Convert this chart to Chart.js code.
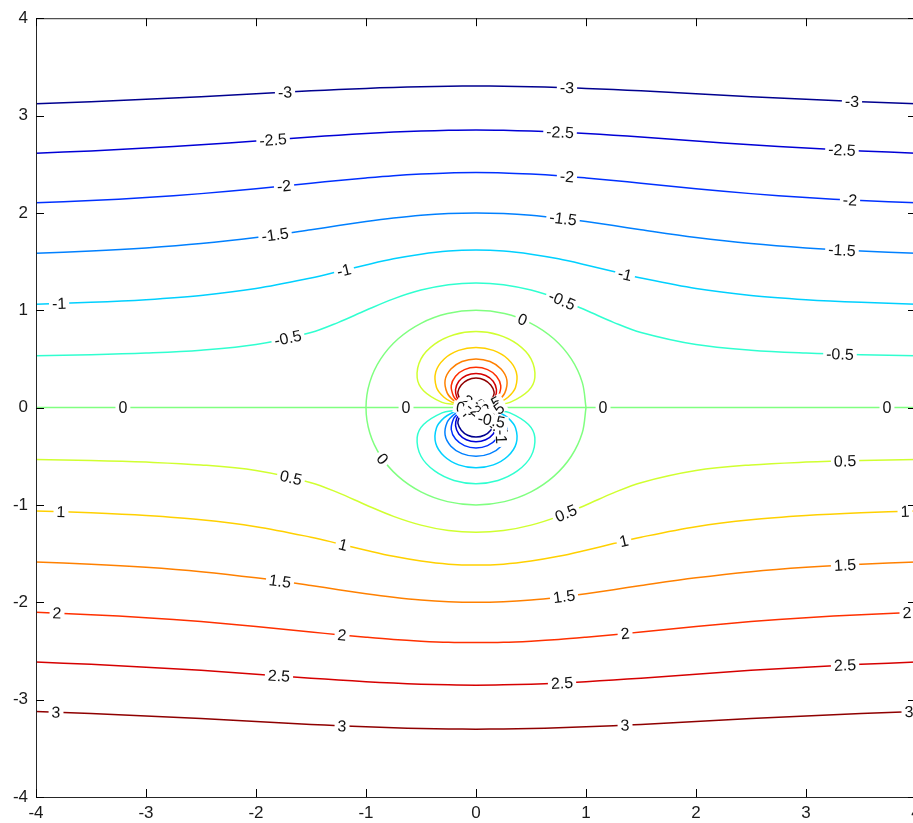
<!DOCTYPE html>
<html><head><meta charset="utf-8">
<script src="https://cdn.jsdelivr.net/npm/chart.js@4.4.1/dist/chart.umd.min.js"></script>
<style>html,body{margin:0;padding:0;overflow:hidden;background:#fff}canvas{display:block}</style>
</head><body><canvas id="c" width="940" height="823"></canvas>
<script>
// ---------- data ----------
const X_TICKS = [-4,-3,-2,-1,0,1,2,3,4];
const Y_TICKS = [-4,-3,-2,-1,0,1,2,3,4];
const LEVELS = [-3,-2.5,-2,-1.5,-1,-0.5,0,0.5,1,1.5,2,2.5,3];

// shared x positions for the long contour lines
const GRID_X = [-4,-3.5,-3,-2.5,-2,-1.5,-1.25,-1,-0.75,-0.5,-0.25,0,0.25,0.5,0.75,1,1.25,1.5,2,2.5,3,3.5,4];

// upper contours (negative levels)
const Y_M30 = [3.121,3.142,3.167,3.194,3.224,3.254,3.267,3.279,3.289,3.296,3.301,3.303,3.301,3.296,3.289,3.279,3.267,3.254,3.224,3.194,3.167,3.142,3.121];
const Y_M25 = [2.614,2.637,2.666,2.699,2.738,2.779,2.798,2.815,2.830,2.841,2.848,2.851,2.848,2.841,2.830,2.815,2.798,2.779,2.738,2.699,2.666,2.637,2.614];
const Y_M20 = [2.103,2.127,2.158,2.198,2.248,2.305,2.333,2.359,2.382,2.399,2.411,2.414,2.411,2.399,2.382,2.359,2.333,2.305,2.248,2.198,2.158,2.127,2.103];
const Y_M15 = [1.586,1.608,1.640,1.685,1.748,1.827,1.870,1.911,1.947,1.976,1.994,2.000,1.994,1.976,1.947,1.911,1.870,1.827,1.748,1.685,1.640,1.608,1.586];
const Y_M10 = [1.062,1.081,1.109,1.152,1.223,1.331,1.397,1.465,1.528,1.576,1.608,1.618,1.608,1.576,1.528,1.465,1.397,1.331,1.223,1.152,1.109,1.081,1.062];
const Y_M05 = [0.533,0.543,0.560,0.589,0.647,0.771,0.876,1.000,1.117,1.207,1.263,1.281,1.263,1.207,1.117,1.000,0.876,0.771,0.647,0.589,0.560,0.543,0.533];
// zero streamline along the axis
const Y_ZERO = [0,0,0,0,0,0,0,0,0,0,0,0,0,0,0,0,0,0,0,0,0,0,0];
// lower contours (positive levels)
const Y_P05 = [-0.533,-0.543,-0.560,-0.589,-0.647,-0.771,-0.876,-1.000,-1.117,-1.207,-1.263,-1.281,-1.263,-1.207,-1.117,-1.000,-0.876,-0.771,-0.647,-0.589,-0.560,-0.543,-0.533];
const Y_P10 = [-1.062,-1.081,-1.109,-1.152,-1.223,-1.331,-1.397,-1.465,-1.528,-1.576,-1.608,-1.618,-1.608,-1.576,-1.528,-1.465,-1.397,-1.331,-1.223,-1.152,-1.109,-1.081,-1.062];
const Y_P15 = [-1.586,-1.608,-1.640,-1.685,-1.748,-1.827,-1.870,-1.911,-1.947,-1.976,-1.994,-2.000,-1.994,-1.976,-1.947,-1.911,-1.870,-1.827,-1.748,-1.685,-1.640,-1.608,-1.586];
const Y_P20 = [-2.103,-2.127,-2.158,-2.198,-2.248,-2.305,-2.333,-2.359,-2.382,-2.399,-2.411,-2.414,-2.411,-2.399,-2.382,-2.359,-2.333,-2.305,-2.248,-2.198,-2.158,-2.127,-2.103];
const Y_P25 = [-2.614,-2.637,-2.666,-2.699,-2.738,-2.779,-2.798,-2.815,-2.830,-2.841,-2.848,-2.851,-2.848,-2.841,-2.830,-2.815,-2.798,-2.779,-2.738,-2.699,-2.666,-2.637,-2.614];
const Y_P30 = [-3.121,-3.142,-3.167,-3.194,-3.224,-3.254,-3.267,-3.279,-3.289,-3.296,-3.301,-3.303,-3.301,-3.296,-3.289,-3.279,-3.267,-3.254,-3.224,-3.194,-3.167,-3.142,-3.121];

// zero contour circle
const CIRCLE_0 = [[1,0],[0.966,0.259],[0.866,0.5],[0.707,0.707],[0.5,0.866],[0.259,0.966],[0,1],[-0.259,0.966],[-0.5,0.866],[-0.707,0.707],[-0.866,0.5],[-0.966,0.259],[-1,0],[-0.966,-0.259],[-0.866,-0.5],[-0.707,-0.707],[-0.5,-0.866],[-0.259,-0.966],[0,-1],[0.259,-0.966],[0.5,-0.866],[0.707,-0.707],[0.866,-0.5],[0.966,-0.259],[1,0]];

// inner loops, upper half (positive levels)
const LOOP_P05 = [[0.19,0.03],[0.309,0.054],[0.477,0.174],[0.535,0.309],[0.5,0.5],[0.376,0.651],[0.2,0.748],[0,0.781],[-0.2,0.748],[-0.376,0.651],[-0.5,0.5],[-0.535,0.309],[-0.477,0.174],[-0.309,0.054],[-0.19,0.03]];
const LOOP_P10 = [[0.14,0.02],[0.21,0.05],[0.291,0.106],[0.359,0.207],[0.366,0.366],[0.289,0.5],[0.158,0.588],[0,0.618],[-0.158,0.588],[-0.289,0.5],[-0.366,0.366],[-0.359,0.207],[-0.291,0.106],[-0.21,0.05],[-0.14,0.02]];
const LOOP_P15 = [[0.13,0.025],[0.204,0.074],[0.262,0.151],[0.281,0.281],[0.228,0.396],[0.127,0.473],[0,0.5],[-0.127,0.473],[-0.228,0.396],[-0.281,0.281],[-0.262,0.151],[-0.204,0.074],[-0.13,0.025]];
const LOOP_P20 = [[0.12,0.03],[0.17,0.07],[0.205,0.118],[0.225,0.225],[0.186,0.323],[0.105,0.390],[0,0.414],[-0.105,0.390],[-0.186,0.323],[-0.225,0.225],[-0.205,0.118],[-0.17,0.07],[-0.12,0.03]];
const LOOP_P25 = [[0.11,0.035],[0.15,0.07],[0.175,0.11],[0.186,0.186],[0.156,0.271],[0.088,0.330],[0,0.351],[-0.088,0.330],[-0.156,0.271],[-0.186,0.186],[-0.175,0.11],[-0.15,0.07],[-0.11,0.035]];
const LOOP_P30 = [[0.1,0.04],[0.135,0.075],[0.155,0.11],[0.165,0.16],[0.134,0.232],[0.076,0.284],[0,0.303],[-0.076,0.284],[-0.134,0.232],[-0.165,0.16],[-0.155,0.11],[-0.135,0.075],[-0.1,0.04]];
// inner loops, lower half (negative levels)
const LOOP_M05 = [[0.19,-0.03],[0.309,-0.054],[0.477,-0.174],[0.535,-0.309],[0.5,-0.5],[0.376,-0.651],[0.2,-0.748],[0,-0.781],[-0.2,-0.748],[-0.376,-0.651],[-0.5,-0.5],[-0.535,-0.309],[-0.477,-0.174],[-0.309,-0.054],[-0.19,-0.03]];
const LOOP_M10 = [[0.14,-0.02],[0.21,-0.05],[0.291,-0.106],[0.359,-0.207],[0.366,-0.366],[0.289,-0.5],[0.158,-0.588],[0,-0.618],[-0.158,-0.588],[-0.289,-0.5],[-0.366,-0.366],[-0.359,-0.207],[-0.291,-0.106],[-0.21,-0.05],[-0.14,-0.02]];
const LOOP_M15 = [[0.13,-0.025],[0.204,-0.074],[0.262,-0.151],[0.281,-0.281],[0.228,-0.396],[0.127,-0.473],[0,-0.5],[-0.127,-0.473],[-0.228,-0.396],[-0.281,-0.281],[-0.262,-0.151],[-0.204,-0.074],[-0.13,-0.025]];
const LOOP_M20 = [[0.12,-0.03],[0.17,-0.07],[0.205,-0.118],[0.225,-0.225],[0.186,-0.323],[0.105,-0.390],[0,-0.414],[-0.105,-0.390],[-0.186,-0.323],[-0.225,-0.225],[-0.205,-0.118],[-0.17,-0.07],[-0.12,-0.03]];
const LOOP_M25 = [[0.11,-0.035],[0.15,-0.07],[0.175,-0.11],[0.186,-0.186],[0.156,-0.271],[0.088,-0.330],[0,-0.351],[-0.088,-0.330],[-0.156,-0.271],[-0.186,-0.186],[-0.175,-0.11],[-0.15,-0.07],[-0.11,-0.035]];
const LOOP_M30 = [[0.1,-0.04],[0.135,-0.075],[0.155,-0.11],[0.165,-0.16],[0.134,-0.232],[0.076,-0.284],[0,-0.303],[-0.076,-0.284],[-0.134,-0.232],[-0.165,-0.16],[-0.155,-0.11],[-0.135,-0.075],[-0.1,-0.04]];

// contour labels: text, x, y, line index
const LABELS = [
 ['-3',-1.736,3.240,0],['-3',0.827,3.286,0],['-3',3.418,3.146,0],
 ['-2.5',-1.845,2.751,1],['-2.5',0.764,2.829,1],['-2.5',3.327,2.647,1],
 ['-2',-1.745,2.277,2],['-2',0.827,2.375,2],['-2',3.4,2.133,2],
 ['-1.5',-1.827,1.775,3],['-1.5',0.791,1.941,3],['-1.5',3.327,1.619,3],
 ['-1',-3.79,1.070,4],['-1',-1.2,1.411,4],['-1',1.355,1.369,4],
 ['-0.5',-1.71,0.715,5],['-0.5',0.782,1.102,5],['-0.5',3.309,0.549,5],
 ['0',-3.21,0,6],['0',-0.636,0,6],['0',1.155,0,6],['0',3.736,0,6],
 ['0',0.423,0.906,7],['0',-0.85,-0.527,7],
 ['0.5',-1.682,-0.72,8],['0.5',0.818,-1.085,8],['0.5',3.355,-0.548,8],
 ['1',-3.773,-1.071,9],['1',-1.209,-1.408,9],['1',1.345,-1.371,9],['1',3.9,-1.066,9],
 ['1.5',-1.782,-1.783,10],['1.5',0.8,-1.94,10],['1.5',3.355,-1.617,10],
 ['2',-3.809,-2.111,11],['2',-1.218,-2.337,11],['2',1.355,-2.321,11],['2',3.918,-2.107,11],
 ['2.5',-1.791,-2.755,12],['2.5',0.782,-2.828,12],['2.5',3.355,-2.645,12],
 ['3',-3.818,-3.129,13],['3',-1.218,-3.271,13],['3',1.355,-3.262,13],['3',3.936,-3.124,13],
 // crowded labels at the singular point
 ['3',-0.12,0.03,19],['2.5',-0.03,0.03,18],['2',0.06,0.03,17],['1.5',0.13,0.02,16],
 ['1',0.02,0.0,15],['0.5',-0.08,-0.01,14],['3',0.1,-0.02,19],['2.5',0.16,-0.05,18],
 ['-3',-0.08,-0.04,25],['-2.5',0.03,-0.06,24],['-2',0.11,-0.09,23],['-1.5',0.18,-0.18,22],['-1',0.23,-0.3,21],['-0.5',0.14,-0.13,20]
];

// ---------- styles ----------
const COLORS = {
 '-3':'#00008f','-2.5':'#0000d6','-2':'#0030ff','-1.5':'#0080ff','-1':'#00d0ff','-0.5':'#30ffd0',
 '0':'#80ff80','0.5':'#d0ff30','1':'#ffd000','1.5':'#ff8000','2':'#ff3000','2.5':'#d60000','3':'#8f0000'
};

const fromGrid = ys => GRID_X.map((x,i)=>({x:x, y:ys[i]}));
const fromPairs = ps => ps.map(p=>({x:p[0], y:p[1]}));

const lines = [
 [-3, fromGrid(Y_M30)],[-2.5, fromGrid(Y_M25)],[-2, fromGrid(Y_M20)],[-1.5, fromGrid(Y_M15)],[-1, fromGrid(Y_M10)],[-0.5, fromGrid(Y_M05)],
 [0, fromGrid(Y_ZERO)],[0, fromPairs(CIRCLE_0)],
 [0.5, fromGrid(Y_P05)],[1, fromGrid(Y_P10)],[1.5, fromGrid(Y_P15)],[2, fromGrid(Y_P20)],[2.5, fromGrid(Y_P25)],[3, fromGrid(Y_P30)],
 [0.5, fromPairs(LOOP_P05)],[1, fromPairs(LOOP_P10)],[1.5, fromPairs(LOOP_P15)],[2, fromPairs(LOOP_P20)],[2.5, fromPairs(LOOP_P25)],[3, fromPairs(LOOP_P30)],
 [-0.5, fromPairs(LOOP_M05)],[-1, fromPairs(LOOP_M10)],[-1.5, fromPairs(LOOP_M15)],[-2, fromPairs(LOOP_M20)],[-2.5, fromPairs(LOOP_M25)],[-3, fromPairs(LOOP_M30)]
];

const datasets = lines.map(([lv,data])=>({
 label:String(lv), data:data, showLine:true, pointRadius:0, borderWidth:1.5,
 borderColor:COLORS[String(lv)], tension:0.35, fill:false
}));

const FONT = '16px "Liberation Sans", Arial, sans-serif';

const labelPlugin = {
 id:'clabels',
 afterDatasetsDraw(chart){
  const ctx = chart.ctx, xs = chart.scales.x, ys = chart.scales.y, a = chart.chartArea;
  ctx.save();
  ctx.beginPath(); ctx.rect(a.left, a.top, a.right-a.left, a.bottom-a.top); ctx.clip();
  ctx.font = FONT; ctx.textAlign='center'; ctx.textBaseline='middle';
  for (const L of LABELS){
   const px = xs.getPixelForValue(L[1]), py = ys.getPixelForValue(L[2]);
   const pts = chart.getDatasetMeta(L[3]).data;
   let best = Infinity, ang = 0;
   for (let i=0;i<pts.length-1;i++){
    const p=pts[i], q=pts[i+1];
    const mx=(p.x+q.x)/2, my=(p.y+q.y)/2;
    const d=(mx-px)*(mx-px)+(my-py)*(my-py);
    if (d<best){best=d; ang=Math.atan2(q.y-p.y,q.x-p.x);}
   }
   if (ang>Math.PI/2) ang-=Math.PI;
   if (ang<-Math.PI/2) ang+=Math.PI;
   ctx.save();
   ctx.translate(px,py); ctx.rotate(ang);
   const w = ctx.measureText(L[0]).width;
   ctx.fillStyle='#fff'; ctx.fillRect(-w/2-3,-6,w+6,12);
   ctx.fillStyle='#111'; ctx.fillText(L[0],0,1);
   ctx.restore();
  }
  ctx.restore();
 }
};

const framePlugin = {
 id:'frame',
 afterDraw(chart){
  const ctx = chart.ctx, xs = chart.scales.x, ys = chart.scales.y, a = chart.chartArea;
  ctx.save();
  ctx.strokeStyle='#262626'; ctx.lineWidth=1;
  ctx.strokeRect(a.left+0.5, a.top+0.5, a.right-a.left, a.bottom-a.top);
  ctx.beginPath();
  for (const v of X_TICKS){
   const x = Math.round(xs.getPixelForValue(v))+0.5;
   ctx.moveTo(x,a.bottom); ctx.lineTo(x,a.bottom-8);
   ctx.moveTo(x,a.top); ctx.lineTo(x,a.top+8);
  }
  for (const v of Y_TICKS){
   const y = Math.round(ys.getPixelForValue(v))+0.5;
   ctx.moveTo(a.left,y); ctx.lineTo(a.left+8,y);
   ctx.moveTo(a.right,y); ctx.lineTo(a.right-8,y);
  }
  ctx.strokeStyle='#000'; ctx.stroke();
  ctx.restore();
 }
};

new Chart(document.getElementById('c'), {
 type:'scatter',
 data:{datasets:datasets},
 plugins:[labelPlugin, framePlugin],
 options:{
  responsive:false, animation:false, devicePixelRatio:1,
  layout:{padding:{top:12,right:24,left:0,bottom:0}},
  plugins:{legend:{display:false}, tooltip:{enabled:false}},
  scales:{
   x:{type:'linear', min:-4, max:4,
      afterFit(s){ s.height = 26; },
      afterBuildTicks(s){ s.ticks = X_TICKS.map(v=>({value:v})); },
      grid:{display:false, drawTicks:false}, border:{display:false},
      ticks:{padding:6, color:'#1a1a1a', font:{family:'"Liberation Sans", Arial, sans-serif', size:17}, maxRotation:0, autoSkip:false}},
   y:{type:'linear', min:-4, max:4,
      afterFit(s){ s.width = 36; },
      afterBuildTicks(s){ s.ticks = Y_TICKS.map(v=>({value:v})); },
      grid:{display:false, drawTicks:false}, border:{display:false},
      ticks:{padding:8, color:'#1a1a1a', font:{family:'"Liberation Sans", Arial, sans-serif', size:17}, autoSkip:false}}
  }
 }
});
</script>
</body></html>
